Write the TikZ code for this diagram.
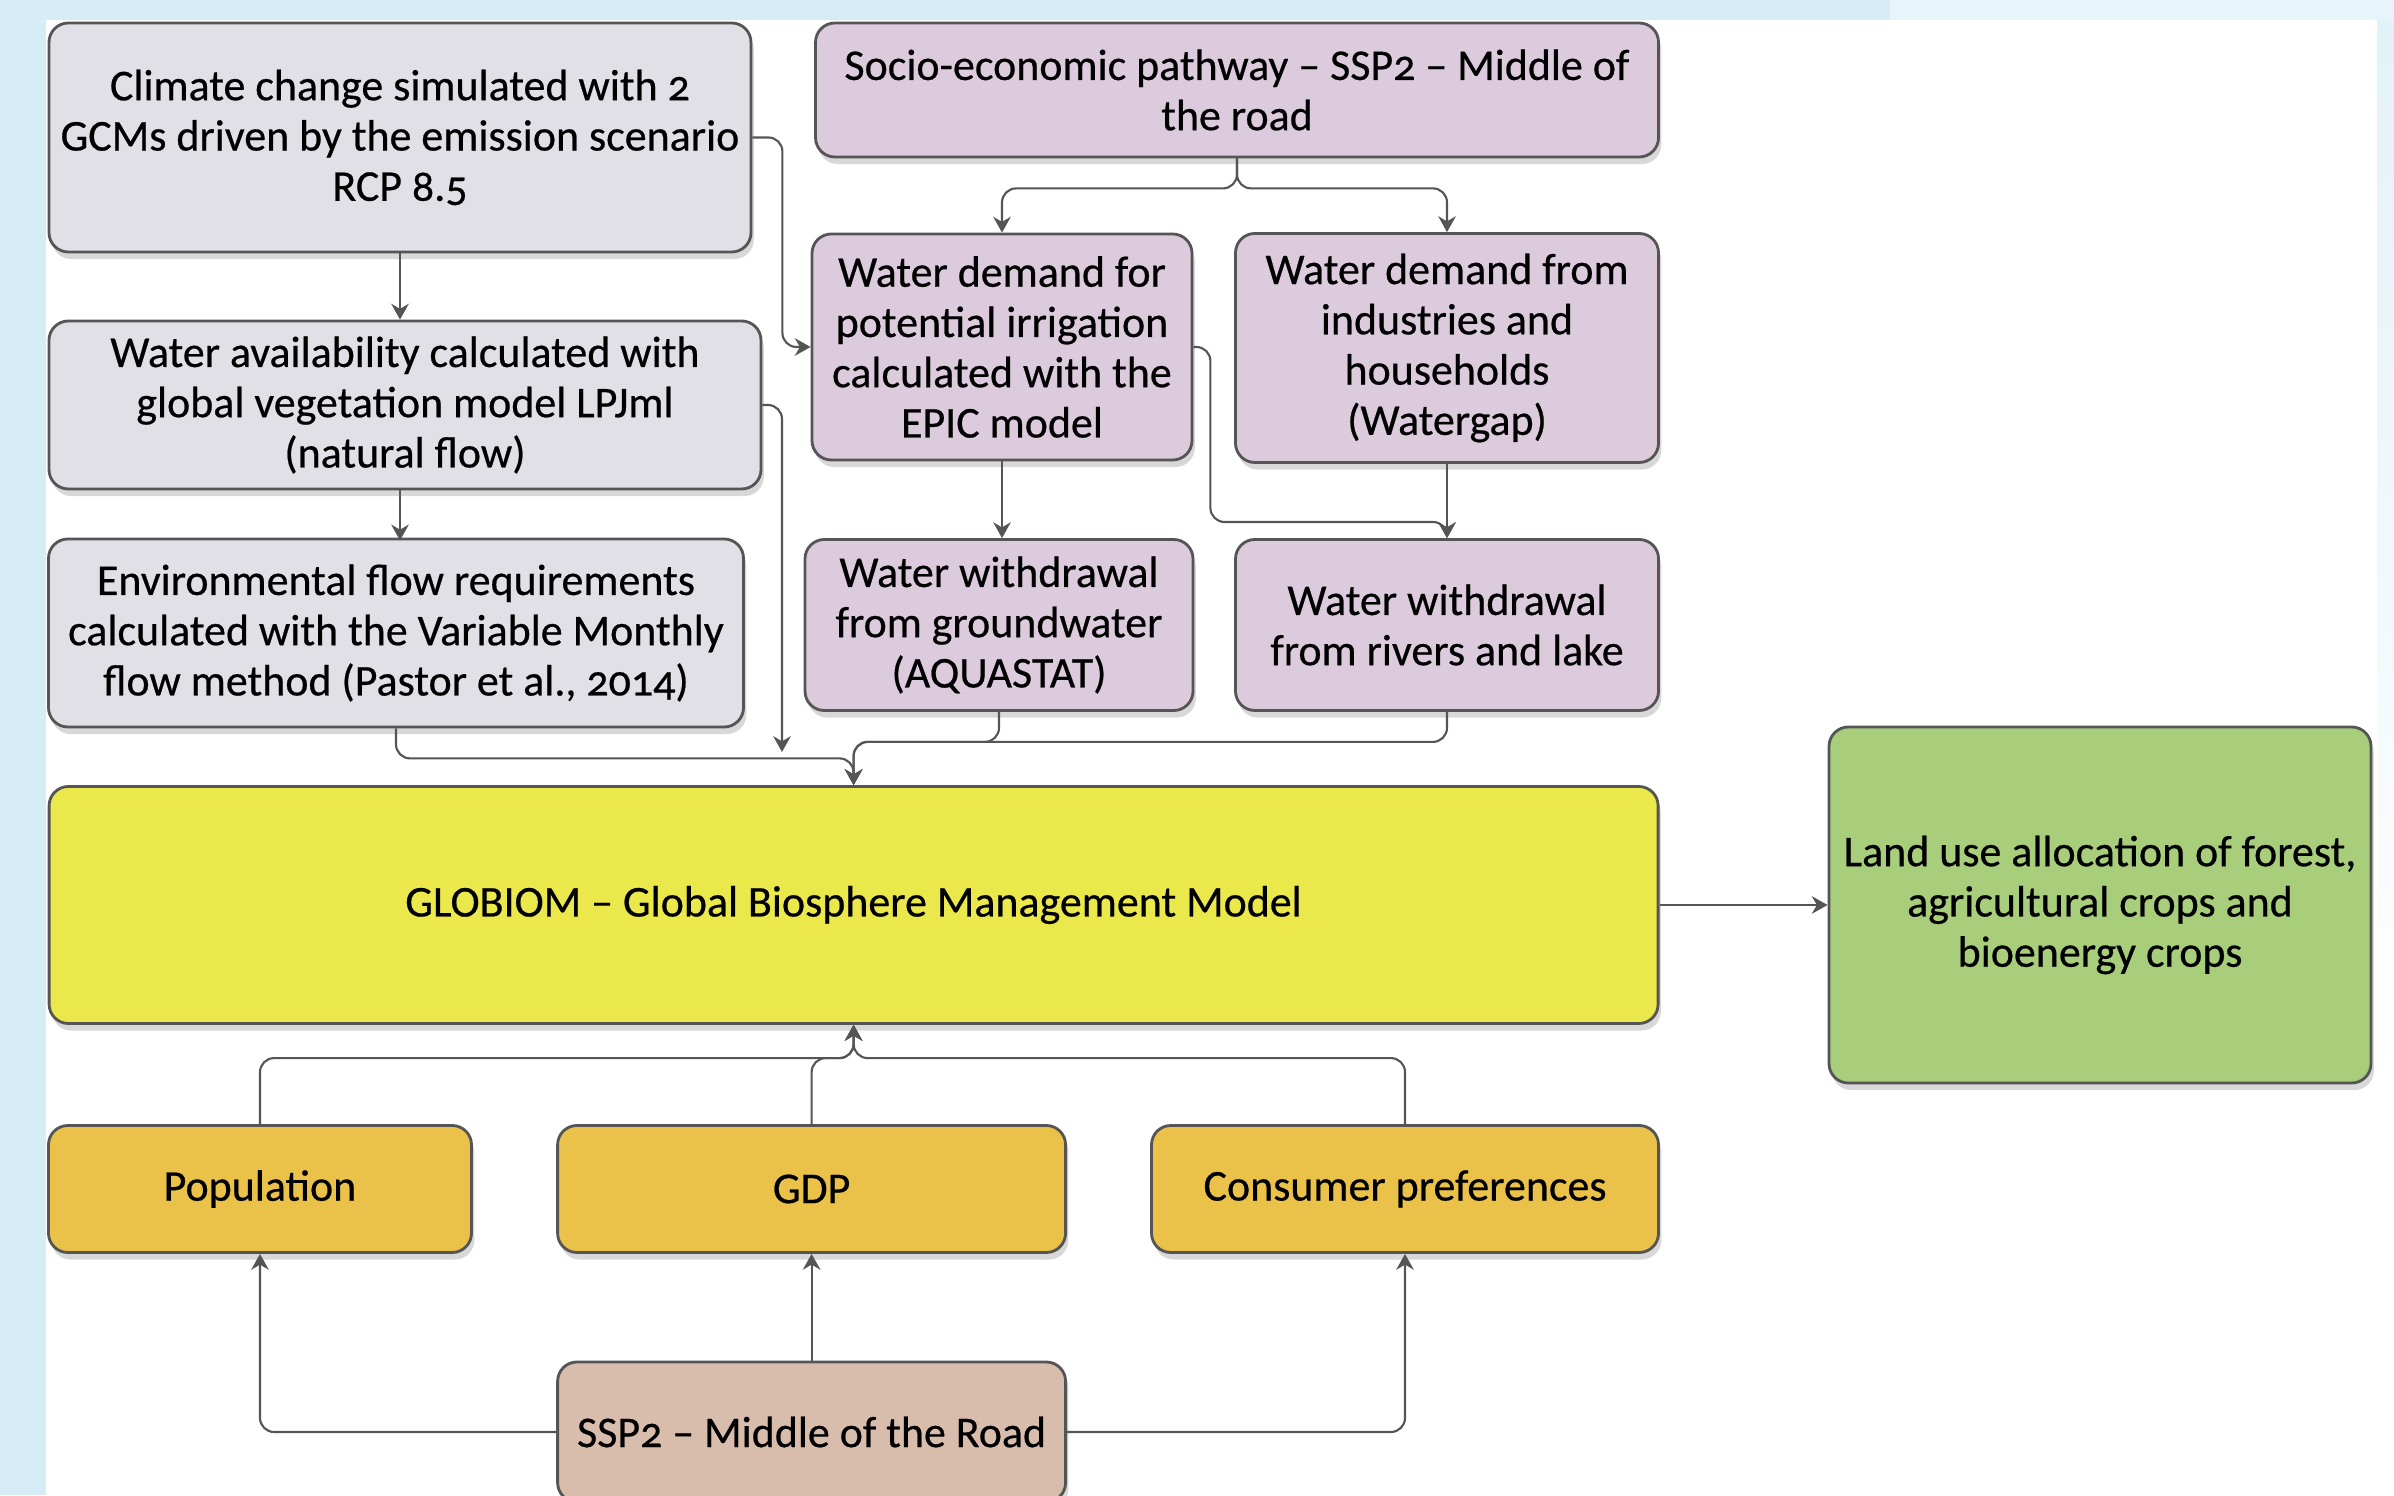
\documentclass[tikz,border=0pt]{standalone}
\usepackage{fontspec}
\setmainfont{Carlito}[Numbers=OldStyle,FakeBold=0.5]
\usetikzlibrary{shadows,arrows.meta}
\definecolor{bgblue}{HTML}{D6ECF6}
\definecolor{cgray}{HTML}{E1E0E6}
\definecolor{cmauve}{HTML}{DCCBDC}
\definecolor{cyellow}{HTML}{EBE84C}
\definecolor{cgreen}{HTML}{A8CD7B}
\definecolor{cgold}{HTML}{EAC24A}
\definecolor{cbeige}{HTML}{D9BDAC}
\definecolor{cline}{HTML}{555555}

\begin{document}
\begin{tikzpicture}[
  box/.style={draw=cline,line width=0.8pt,rounded corners=5.5pt,align=center,
    font=\fontsize{12.5}{14.3}\selectfont,inner sep=2pt,
    drop shadow={shadow xshift=0.8pt,shadow yshift=-2pt,opacity=0.3}},
  flow/.style={draw=cline,line width=0.6pt,rounded corners=4pt,-{Stealth[length=4.5pt,width=5pt]}}
]
\clip (0,0) rectangle (23.94,14.95);
\useasboundingbox (0,0) rectangle (23.94,14.95);
% background
\fill[white] (0,0) rectangle (23.94,14.95);
\fill[bgblue] (0,0) rectangle (0.46,14.95);
\fill[bgblue] (0,14.75) rectangle (18.9,14.95);
\fill[bgblue!60] (18.9,14.75) rectangle (23.94,14.95);
\shade[top color=bgblue!70,bottom color=white] (23.77,4) rectangle (23.94,14.75);

% water side
\node[box,fill=cgray,minimum width=7.02cm,minimum height=2.29cm] (clim) at (4.00,13.575)
  {Climate change simulated with 2\\GCMs driven by the emission scenario\\RCP 8.5};
\node[box,fill=cgray,minimum width=7.12cm,minimum height=1.68cm] (avail) at (4.05,10.90)
  {Water availability calculated with\\global vegetation model LPJml\\(natural flow)};
\node[box,fill=cgray,minimum width=6.95cm,minimum height=1.88cm] (env) at (3.96,8.62)
  {Environmental flow requirements\\calculated with the Variable Monthly\\flow method (Pastor et al., 2014)};

\node[box,fill=cmauve,minimum width=8.43cm,minimum height=1.34cm] (socio) at (12.37,14.05)
  {Socio-economic pathway -- SSP2 -- Middle of\\the road};
\node[box,fill=cmauve,minimum width=3.80cm,minimum height=2.26cm] (irrig) at (10.02,11.48)
  {Water demand for\\potential irrigation\\calculated with the\\EPIC model};
\node[box,fill=cmauve,minimum width=4.23cm,minimum height=2.29cm] (indus) at (14.47,11.47)
  {Water demand from\\industries and\\households\\(Watergap)};
\node[box,fill=cmauve,minimum width=3.88cm,minimum height=1.71cm] (ground) at (9.99,8.70)
  {Water withdrawal\\from groundwater\\(AQUASTAT)};
\node[box,fill=cmauve,minimum width=4.23cm,minimum height=1.71cm] (rivers) at (14.47,8.70)
  {Water withdrawal\\from rivers and lake};

% model and result
\node[box,fill=cyellow,minimum width=16.09cm,minimum height=2.37cm] (globiom) at (8.536,5.90)
  {GLOBIOM -- Global Biosphere Management Model};
\node[box,fill=cgreen,minimum width=5.42cm,minimum height=3.56cm] (land) at (21.00,5.90)
  {Land use allocation of forest,\\agricultural crops and\\bioenergy crops};

% drivers
\node[box,fill=cgold,minimum width=4.23cm,minimum height=1.27cm] (pop) at (2.60,3.06) {Population};
\node[box,fill=cgold,minimum width=5.08cm,minimum height=1.27cm] (gdp) at (8.116,3.06) {GDP};
\node[box,fill=cgold,minimum width=5.07cm,minimum height=1.27cm] (cons) at (14.05,3.06) {Consumer preferences};
\node[box,fill=cbeige,minimum width=5.08cm,minimum height=1.40cm] (ssp) at (8.116,0.63) {SSP2 -- Middle of the Road};

% connectors
\draw[flow] (clim.south) -- (clim.south |- avail.north);
\draw[flow] (clim.east) -- ++(0.3,0) |- (irrig.west);
\coordinate (a1) at (7.82,7.43);
\draw[flow] (avail.east) -| (a1);
\draw[flow] (avail.south) ++(-0.05,0) -- ++(0,-0.5);
\draw[flow] (env.south) -- ++(0,-0.3) -| (globiom.north);
\draw[flow] (ground.south) -- ++(0,-0.3) -| (globiom.north);
\draw[flow] (rivers.south) -- ++(0,-0.3) -| (globiom.north);

\draw[flow] (socio.south) -- ++(0,-0.3) -| (irrig.north);
\draw[flow] (socio.south) -- ++(0,-0.3) -| (indus.north);
\draw[flow] (irrig.south) -- (irrig.south |- ground.north);
\draw[flow] (irrig.east) -- ++(0.17,0) -- ++(0,-1.75) -| (rivers.north);
\draw[flow] (indus.south) -- (rivers.north);

\draw[flow] (globiom.east) -- (land.west);

\draw[flow] (pop.north) -- ++(0,0.66) -| (globiom.south);
\draw[flow] (gdp.north) -- ++(0,0.66) -| (globiom.south);
\draw[flow] (cons.north) -- ++(0,0.66) -| (globiom.south);

\draw[flow] (ssp.west) -| (pop.south);
\draw[flow] (ssp.north) -- (gdp.south);
\draw[flow] (ssp.east) -| (cons.south);

\end{tikzpicture}
\end{document}
